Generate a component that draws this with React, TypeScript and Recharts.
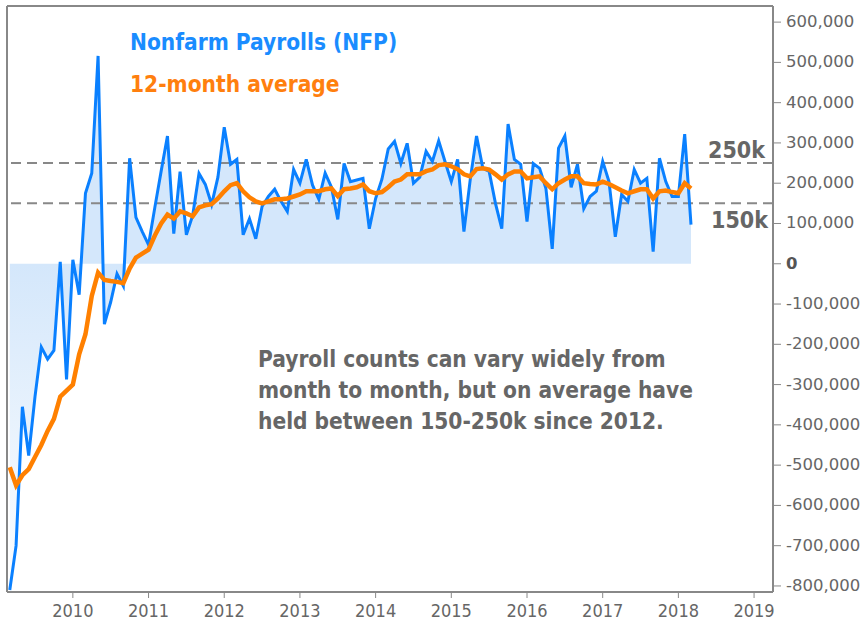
import { ComposedChart, Area, Line, XAxis, YAxis, ReferenceLine } from 'recharts';

// Monthly change in nonfarm payrolls, thousands (series starts March 2009)
const nfp2009 = [-810, -700, -355, -476, -330, -207, -237, -215, 5, -287];
const nfp2010 = [10, -77, 175, 225, 516, -150, -95, -25, -55, 262, 115, 80];
const nfp2011 = [47, 140, 230, 317, 75, 229, 72, 120, 224, 197, 147, 215];
const nfp2012 = [339, 247, 259, 72, 112, 62, 142, 167, 185, 155, 130, 234];
const nfp2013 = [200, 259, 195, 160, 225, 190, 110, 249, 204, 208, 212, 87];
const nfp2014 = [162, 210, 285, 304, 249, 299, 200, 215, 279, 254, 305, 254];
const nfp2015 = [204, 259, 80, 209, 317, 237, 229, 150, 87, 347, 259, 247];
const nfp2016 = [105, 249, 237, 187, 37, 287, 317, 190, 247, 137, 167, 180];
const nfp2017 = [254, 204, 67, 172, 155, 234, 200, 212, 30, 262, 204, 167];
const nfp2018 = [167, 322, 97];

// 12-month average, thousands
const avg2009 = [-505, -550, -525, -510, -480, -450, -415, -385, -330, -315];
const avg2010 = [-300, -225, -175, -80, -22, -40, -43, -45, -48, -12, 15, 25];
const avg2011 = [35, 70, 100, 122, 112, 130, 125, 118, 140, 145, 148, 162];
const avg2012 = [180, 195, 200, 180, 165, 155, 150, 155, 160, 160, 162, 167];
const avg2013 = [172, 180, 180, 180, 185, 187, 168, 185, 187, 190, 197, 180];
const avg2014 = [175, 178, 190, 204, 209, 222, 222, 222, 230, 234, 245, 247];
const avg2015 = [242, 235, 222, 217, 235, 237, 234, 222, 209, 222, 229, 229];
const avg2016 = [212, 215, 217, 200, 185, 200, 209, 217, 217, 200, 198, 197];
const avg2017 = [204, 198, 190, 182, 175, 180, 185, 185, 162, 180, 182, 178];
const avg2018 = [175, 200, 187];

const years = [2009, 2010, 2011, 2012, 2013, 2014, 2015, 2016, 2017, 2018];
const firstMonth = 3;

const yearTicks = [2010, 2011, 2012, 2013, 2014, 2015, 2016, 2017, 2018, 2019];
const valueTicks = [600000, 500000, 400000, 300000, 200000, 100000, 0, -100000, -200000,
  -300000, -400000, -500000, -600000, -700000, -800000];

const noteLines = [
  'Payroll counts can vary widely from',
  'month to month, but on average have',
  'held between 150-250k since 2012.',
];

const nfpByYear = [nfp2009, nfp2010, nfp2011, nfp2012, nfp2013, nfp2014, nfp2015, nfp2016, nfp2017, nfp2018];
const avgByYear = [avg2009, avg2010, avg2011, avg2012, avg2013, avg2014, avg2015, avg2016, avg2017, avg2018];

const data: { t: number; nfp: number; avg: number }[] = [];
nfpByYear.forEach((vals, yi) => {
  const start = yi === 0 ? firstMonth : 1;
  vals.forEach((v, k) => {
    data.push({ t: years[yi] + (start - 1 + k) / 12, nfp: v * 1000, avg: avgByYear[yi][k] * 1000 });
  });
});

const FONT = "'DejaVu Sans', Verdana, sans-serif";
const NARROW = "'DejaVu Sans Condensed', 'Liberation Sans Narrow', 'DejaVu Sans', sans-serif";
const GRAY = '#666666';

const ValueTick = (props: any) => {
  const { x, y, payload } = props;
  const zero = payload.value === 0;
  return (
    <text x={x} y={y} dy={5} textAnchor="start" fontFamily={FONT} fontSize={16.5}
      fontWeight={zero ? 'bold' : 'normal'} fill={zero ? '#555' : GRAY}>
      {payload.value.toLocaleString('en-US')}
    </text>
  );
};

export default function App() {
  return (
    <div style={{ position: 'absolute', left: 0, top: 0, width: 863, height: 626, background: '#fff' }}>
      <ComposedChart width={863} height={626} data={data} margin={{ top: 6, right: 0, bottom: 0, left: 7 }}>
        <defs>
          <linearGradient id="nfpFill" x1="0" y1="0" x2="0" y2="1">
            <stop offset="0" stopColor="#d4e7fb" />
            <stop offset="0.39" stopColor="#d4e7fb" />
            <stop offset="1" stopColor="#d4e7fb" stopOpacity={0.05} />
          </linearGradient>
        </defs>
        <XAxis dataKey="t" type="number" domain={[2009.13, 2019.25]} ticks={yearTicks} allowDataOverflow
          interval={0} height={34} tickSize={6} tickMargin={6}
          axisLine={{ stroke: '#888', strokeWidth: 2 }} tickLine={{ stroke: '#888' }}
          tick={{ fill: GRAY, fontSize: 18, fontFamily: NARROW }} />
        <YAxis orientation="right" type="number" domain={[-815000, 640000]} ticks={valueTicks} allowDataOverflow
          interval={0} width={90} tickSize={8} tickMargin={5}
          axisLine={{ stroke: '#888', strokeWidth: 2 }} tickLine={{ stroke: '#888' }}
          tick={<ValueTick />} />
        <ReferenceLine x={2009.13} stroke="#888" strokeWidth={2} />
        <ReferenceLine y={640000} stroke="#888" strokeWidth={2} />
        <Area dataKey="nfp" type="linear" stroke="none" fill="url(#nfpFill)" fillOpacity={1}
          baseValue={0} isAnimationActive={false} />
        <ReferenceLine y={250000} stroke="#888" strokeWidth={2} strokeDasharray="10 6" />
        <ReferenceLine y={150000} stroke="#888" strokeWidth={2} strokeDasharray="10 6" />
        <Line dataKey="nfp" type="linear" stroke="#0a80ff" strokeWidth={3} dot={false} isAnimationActive={false} />
        <Line dataKey="avg" type="linear" stroke="#ff8000" strokeWidth={4.5} dot={false} isAnimationActive={false} />
      </ComposedChart>
      <svg width={863} height={626} style={{ position: 'absolute', left: 0, top: 0, pointerEvents: 'none' }}>
        <text x={130} y={50} fontFamily={NARROW} fontWeight="bold" fontSize={22.5} fill="#1a8cff">Nonfarm Payrolls (NFP)</text>
        <text x={130} y={92} fontFamily={NARROW} fontWeight="bold" fontSize={22.5} fill="#ff7f0e">12-month average</text>
        <text x={765} y={158} textAnchor="end" fontFamily={NARROW} fontWeight="bold" fontSize={23} fill={GRAY}>250k</text>
        <text x={768} y={228} textAnchor="end" fontFamily={NARROW} fontWeight="bold" fontSize={23} fill={GRAY}>150k</text>
        {noteLines.map((line, i) => (
          <text key={i} x={258} y={367 + i * 31} fontFamily={NARROW} fontWeight="bold" fontSize={22.5} fill={GRAY}>{line}</text>
        ))}
      </svg>
    </div>
  );
}
